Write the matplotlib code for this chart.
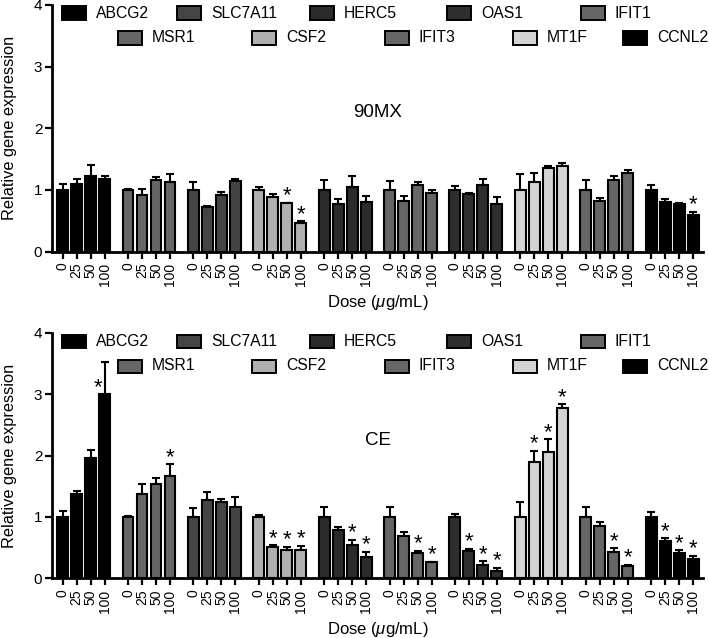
import numpy as np
import matplotlib
matplotlib.use("Agg")
import matplotlib.pyplot as plt
from matplotlib.patches import Rectangle

plt.rcParams['font.family'] = ['Liberation Sans', 'DejaVu Sans']
plt.rcParams['mathtext.fontset'] = 'custom'
plt.rcParams['mathtext.it'] = 'Liberation Sans:italic'
plt.rcParams['mathtext.rm'] = 'Liberation Sans'

# genes in plotting order (left to right)
genes = ['ABCG2', 'MSR1', 'SLC7A11', 'CSF2', 'HERC5',
         'IFIT3', 'OAS1', 'MT1F', 'IFIT1', 'CCNL2']
gene_colors = ['#000000', '#666666', '#444444', '#b0b0b0', '#2b2b2b',
               '#666666', '#2e2e2e', '#d4d4d4', '#666666', '#000000']
doses = ['0', '25', '50', '100']

# legend rows as they appear in the figure
legend_row1 = ['ABCG2', 'SLC7A11', 'HERC5', 'OAS1', 'IFIT1']
legend_row2 = ['MSR1', 'CSF2', 'IFIT3', 'MT1F', 'CCNL2']

# 90MX panel: mean and SEM per gene for doses 0, 25, 50, 100
mx_mean = [
    [1.00, 1.10, 1.23, 1.17],
    [1.00, 0.92, 1.16, 1.13],
    [1.00, 0.73, 0.92, 1.15],
    [1.00, 0.89, 0.78, 0.46],
    [1.00, 0.77, 1.05, 0.80],
    [1.00, 0.82, 1.08, 0.95],
    [1.00, 0.93, 1.08, 0.77],
    [1.00, 1.13, 1.36, 1.38],
    [1.00, 0.82, 1.16, 1.28],
    [1.00, 0.80, 0.77, 0.59],
]
mx_err = [
    [0.10, 0.07, 0.17, 0.06],
    [0.02, 0.09, 0.05, 0.12],
    [0.13, 0.01, 0.05, 0.03],
    [0.04, 0.04, 0.01, 0.03],
    [0.16, 0.08, 0.17, 0.10],
    [0.15, 0.08, 0.04, 0.05],
    [0.06, 0.02, 0.10, 0.12],
    [0.25, 0.15, 0.02, 0.06],
    [0.16, 0.05, 0.06, 0.04],
    [0.08, 0.05, 0.01, 0.05],
]
mx_sig = [
    [0, 0, 0, 0], [0, 0, 0, 0], [0, 0, 0, 0], [0, 0, 1, 1], [0, 0, 0, 0],
    [0, 0, 0, 0], [0, 0, 0, 0], [0, 0, 0, 0], [0, 0, 0, 0], [0, 0, 0, 1],
]

# CE panel
ce_mean = [
    [1.00, 1.37, 1.96, 3.00],
    [1.00, 1.38, 1.53, 1.67],
    [1.00, 1.28, 1.25, 1.17],
    [1.00, 0.51, 0.46, 0.46],
    [1.00, 0.79, 0.54, 0.34],
    [1.00, 0.69, 0.42, 0.26],
    [1.00, 0.45, 0.21, 0.12],
    [1.00, 1.90, 2.06, 2.78],
    [1.00, 0.85, 0.43, 0.20],
    [1.00, 0.61, 0.42, 0.31],
]
ce_err = [
    [0.10, 0.05, 0.13, 0.52],
    [0.01, 0.16, 0.11, 0.19],
    [0.14, 0.12, 0.04, 0.16],
    [0.04, 0.03, 0.05, 0.07],
    [0.17, 0.05, 0.09, 0.09],
    [0.16, 0.06, 0.03, 0.01],
    [0.05, 0.03, 0.07, 0.05],
    [0.25, 0.18, 0.21, 0.06],
    [0.16, 0.06, 0.06, 0.02],
    [0.08, 0.04, 0.04, 0.06],
]
ce_sig = [
    [0, 0, 0, 1], [0, 0, 0, 1], [0, 0, 0, 0], [0, 1, 1, 1], [0, 0, 1, 1],
    [0, 0, 1, 1], [0, 1, 1, 1], [0, 1, 1, 1], [0, 0, 1, 1], [0, 1, 1, 1],
]

W, H = 709, 638
GROUP_STEP = 4.67
row1_x = [62, 177, 310, 447, 581]
row2_x = [118, 252, 385, 513, 623]


def draw_legend(fig, y_top):
    """legend drawn by hand, two staggered rows (pixel layout)"""
    cmap = dict(zip(genes, gene_colors))
    for names, xs, yc in [(legend_row1, row1_x, y_top + 8),
                          (legend_row2, row2_x, y_top + 33)]:
        for name, x in zip(names, xs):
            fig.add_artist(Rectangle((x / W, 1 - (yc + 6.5) / H), 24 / W, 13 / H,
                                     facecolor=cmap[name], edgecolor='black',
                                     linewidth=1.4, transform=fig.transFigure))
            fig.text((x + 34) / W, 1 - yc / H, name, fontsize=11.3,
                     ha='left', va='center')


def draw_panel(ax, means, errs, sig, label):
    pos, heights, errors, colors, ticklabels = [], [], [], [], []
    for g in range(len(genes)):
        for i in range(len(doses)):
            pos.append(g * GROUP_STEP + i)
            heights.append(means[g][i])
            errors.append(errs[g][i])
            colors.append(gene_colors[g])
            ticklabels.append(doses[i])
    pos = np.array(pos)
    ax.bar(pos, heights, width=0.78, color=colors, edgecolor='black',
           linewidth=1.5, zorder=3)
    ax.errorbar(pos, heights, yerr=[np.zeros(len(errors)), errors], fmt='none',
                ecolor='black', elinewidth=1.5, capsize=3, capthick=1.5, zorder=2)

    # significance stars
    for g in range(len(genes)):
        for i in range(len(doses)):
            if not sig[g][i]:
                continue
            x = g * GROUP_STEP + i
            m, e = means[g][i], errs[g][i]
            if e > 0.3:
                ax.annotate('*', (x - 0.5, m), xytext=(0, 1), textcoords='offset points',
                            ha='center', va='baseline', fontsize=16)
            else:
                ax.annotate('*', (x, m + e), xytext=(0, 1), textcoords='offset points',
                            ha='center', va='baseline', fontsize=16)

    ax.set_xlim(-0.76, 9 * GROUP_STEP + 3 + 0.71)
    ax.set_ylim(0, 4)
    ax.set_yticks([0, 1, 2, 3, 4])
    ax.set_xticks(pos)
    ax.set_xticklabels(ticklabels, rotation=90, fontsize=10)
    ax.tick_params(axis='y', labelsize=11, length=5, width=1.6, pad=2)
    ax.tick_params(axis='x', length=5, width=1.6, pad=3)
    for s in ['top', 'right']:
        ax.spines[s].set_visible(False)
    for s in ['left', 'bottom']:
        ax.spines[s].set_linewidth(2)
    ax.set_ylabel('Relative gene expression', fontsize=11.8)
    ax.yaxis.set_label_coords(-0.054, 0.5)
    ax.set_xlabel(r'Dose ($\mu$g/mL)', fontsize=12)
    ax.xaxis.set_label_coords(0.5, -0.226)
    ax.xaxis.label.set_va('baseline')
    ax.text(0.5, 2.25, label, transform=ax.get_yaxis_transform(), fontsize=13.5,
            ha='center', va='center')


fig = plt.figure(figsize=(W / 100, H / 100), dpi=100)
ax1 = fig.add_axes([52 / W, 1 - 251.5 / H, 651 / W, 246.5 / H])
ax2 = fig.add_axes([52 / W, 1 - 578.3 / H, 651 / W, 245.3 / H])

draw_panel(ax1, mx_mean, mx_err, mx_sig, '90MX')
draw_panel(ax2, ce_mean, ce_err, ce_sig, 'CE')
draw_legend(fig, 5)
draw_legend(fig, 333)

fig.savefig('out.png', dpi=100)
